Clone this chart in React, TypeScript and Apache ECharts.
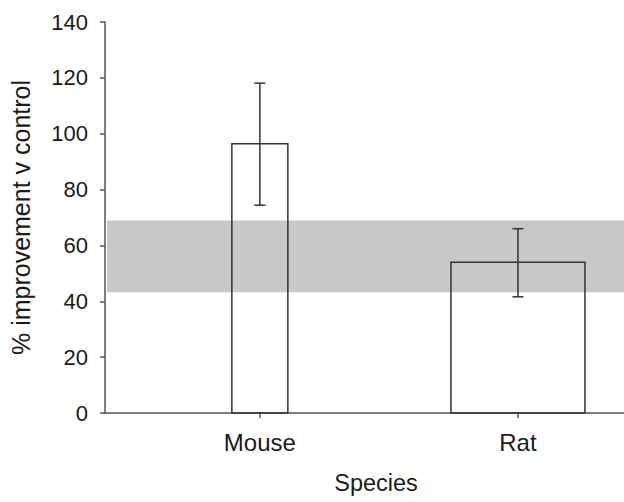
import React, { useEffect, useRef } from "react";
import * as echarts from "echarts";

const categories = ["Mouse", "Rat"];
const means = [96.4, 54.0];
const errLow = [74.4, 41.6];
const errHigh = [118.1, 66.0];
const bandRange = [43.2, 68.9];
const yTicks = [0, 20, 40, 60, 80, 100, 120, 140];

const barWidthsPx = [56, 134];
const capWidthPx = 11;
const FONT = "Liberation Sans, Arial, sans-serif";

export default function App() {
  const ref = useRef<HTMLDivElement>(null);
  useEffect(() => {
    if (!ref.current) return;
    document.body.style.margin = "0";
    document.documentElement.style.overflow = "hidden";
    document.body.style.overflow = "hidden";
    const chart = echarts.init(ref.current, null, { renderer: "svg" });
    const data = categories.map((c, i) => [i, means[i], errLow[i], errHigh[i]]);
    chart.setOption({
      animation: false,
      backgroundColor: "#ffffff",
      grid: { left: 105, top: 22, height: 391, width: 542, containLabel: false, outerBoundsMode: "none" },
      xAxis: {
        type: "value",
        min: -0.6,
        max: 1.5,
        splitLine: { show: false },
        axisLine: { show: true, onZero: false, lineStyle: { color: "#555", width: 1.5 } },
        axisTick: { show: true, customValues: [0, 1], length: 5, lineStyle: { color: "#555", width: 1.5 } },
        axisLabel: {
          customValues: [0, 1],
          formatter: (v: number) => categories[Math.round(v)] ?? "",
          fontSize: 24,
          fontFamily: FONT,
          color: "#1a1a1a",
          margin: 17,
        },
        name: "Species",
        nameLocation: "middle",
        nameGap: 58,
        nameTextStyle: { fontSize: 23.5, fontFamily: FONT, color: "#1a1a1a" },
      },
      yAxis: {
        type: "value",
        min: yTicks[0],
        max: yTicks[yTicks.length - 1],
        interval: 20,
        splitLine: { show: false },
        axisLine: { show: true, onZero: false, lineStyle: { color: "#555", width: 1.5 } },
        axisTick: { show: true, length: 5, lineStyle: { color: "#555", width: 1.5 } },
        axisLabel: { fontSize: 22, fontFamily: FONT, color: "#1a1a1a", margin: 17 },
        name: "% improvement v control",
        nameLocation: "middle",
        nameGap: 72,
        nameTextStyle: { fontSize: 25, fontFamily: FONT, color: "#1a1a1a" },
      },
      series: [
        {
          type: "custom",
          data,
          z: 3,
          clip: false,
          markArea: {
            silent: true,
            itemStyle: { color: "#c8c8c8" },
            data: [[{ xAxis: -0.592, yAxis: bandRange[0] }, { xAxis: 1.5, yAxis: bandRange[1] }]],
          },
          renderItem: (params: any, api: any) => {
            const x = api.value(0);
            const base = api.coord([x, 0]);
            const top = api.coord([x, api.value(1)]);
            const lo = api.coord([x, api.value(2)]);
            const hi = api.coord([x, api.value(3)]);
            const w = barWidthsPx[params.dataIndex];
            const stroke = { stroke: "#333", lineWidth: 1.5 };
            return {
              type: "group",
              children: [
                {
                  type: "rect",
                  shape: { x: base[0] - w / 2, y: top[1], width: w, height: base[1] - top[1] },
                  style: { fill: "none", ...stroke },
                },
                { type: "line", shape: { x1: lo[0], y1: lo[1], x2: hi[0], y2: hi[1] }, style: stroke },
                { type: "line", shape: { x1: hi[0] - capWidthPx / 2, y1: hi[1], x2: hi[0] + capWidthPx / 2, y2: hi[1] }, style: stroke },
                { type: "line", shape: { x1: lo[0] - capWidthPx / 2, y1: lo[1], x2: lo[0] + capWidthPx / 2, y2: lo[1] }, style: stroke },
              ],
            };
          },
        },
      ],
    });
    return () => chart.dispose();
  }, []);
  return <div ref={ref} style={{ width: 624, height: 502 }} />;
}
